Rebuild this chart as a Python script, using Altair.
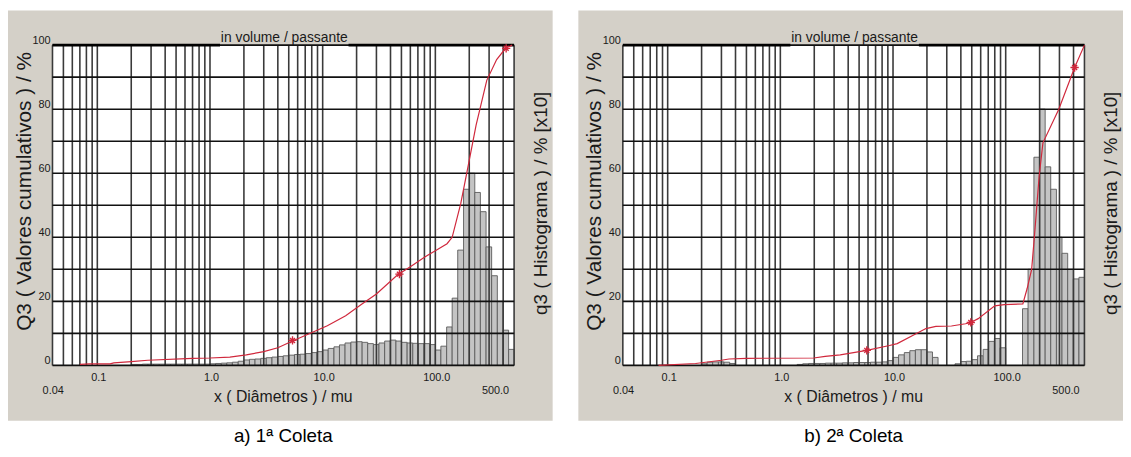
import altair as alt
import pandas as pd

# ---------------- data ----------------
# histogram bin edges (µm), log-spaced
EDGES = [0.200, 0.224, 0.251, 0.282, 0.316, 0.355, 0.398, 0.447, 0.501, 0.562, 0.631, 0.708, 0.794, 0.891,
         1.00, 1.12, 1.26, 1.41, 1.58, 1.78, 2.00, 2.24, 2.51, 2.82, 3.16, 3.55, 3.98, 4.47, 5.01, 5.62, 6.31, 7.08, 7.94, 8.91,
         10.0, 11.2, 12.6, 14.1, 15.8, 17.8, 20.0, 22.4, 25.1, 28.2, 31.6, 35.5, 39.8, 44.7, 50.1, 56.2, 63.1, 70.8, 79.4, 89.1,
         100, 112, 126, 141, 158, 178, 200, 224, 251, 282, 316, 355, 398, 447, 500]

# histogram heights (q3 x10, same axis as Q3)
HIST_A = [0.3, 0.3, 0.4, 0.4, 0.4, 0.4, 0.4, 0.4, 0.4, 0.4, 0.4, 0.4, 0.4, 0.4,
          0.5, 0.6, 0.7, 0.8, 1.0, 1.3, 1.7, 1.9, 2.0, 2.2, 2.4, 2.6, 2.8, 3.0, 3.2, 3.4, 3.5, 3.7, 4.0, 4.3,
          4.8, 5.3, 5.8, 6.4, 7.0, 7.3, 7.4, 7.2, 6.8, 6.5, 7.0, 7.6, 7.9, 7.6, 7.2, 7.0, 6.9, 6.8, 6.8, 6.5,
          4.8, 6.0, 12, 21, 36, 55, 60, 54, 48, 37, 28, 20, 11, 5]
HIST_B = [0.5, 1.0, 1.1, 1.1, 1.0, 0.6, 0, 0, 0, 0, 0, 0, 0, 0,
          0, 0, 0, 0.3, 0.5, 0.6, 0.6, 0.6, 0.7, 0.7, 0.7, 0.8, 0.8, 0.9, 0.9, 0.9, 1.0, 1.0, 1.1, 1.5,
          2.5, 3.3, 4.0, 4.6, 4.9, 4.9, 4.2, 2.5, 0, 0, 0, 0.5, 1.2, 1.3, 1.8, 3.0, 5.0, 7.5, 8.4, 5.5,
          0, 0, 0, 17.7, 30, 65, 80, 62, 55, 40, 35, 30, 27, 27.5]

# cumulative curves Q3 (%)
CUM_A_X = [0.07, 0.085, 0.13, 0.14, 0.2, 0.28, 0.7, 1.0, 1.5, 2.1, 3.0, 4.0, 5.4, 7.5, 11, 16, 22, 30, 46, 60,
           80, 100, 127, 141, 168, 190, 230, 286, 350, 420, 480]
CUM_A_Y = [0.3, 0.5, 0.5, 0.8, 1.2, 1.6, 2.2, 2.3, 2.6, 3.3, 4.3, 5.5, 7.6, 9.8, 12.4, 15.5, 19.0, 22.3, 28.2, 30.8,
           33.8, 35.8, 38.0, 40.0, 50.5, 60.0, 75.0, 89.0, 95.5, 99.0, 100.0]
CUM_B_X = [0.083, 0.177, 0.3, 0.35, 0.5, 1.98, 2.5, 3.4, 5.85, 9.3, 10.9, 16, 19.6, 24, 33, 44, 49, 57, 80, 97,
           142, 155, 170, 182, 198, 214, 296, 409, 500]
CUM_B_Y = [0.0, 0.6, 1.6, 2.0, 2.2, 2.3, 2.8, 3.3, 4.7, 6.2, 6.8, 9.9, 11.5, 12.2, 12.3, 13.0, 13.4, 14.6, 18.6, 19.0,
           19.2, 24.0, 30.0, 42.5, 59.0, 69.5, 80.0, 93.0, 100.0]

STAR_A_X = [5.4, 48, 425]
STAR_A_Y = [7.8, 28.5, 99.0]
STAR_B_X = [5.85, 49, 409]
STAR_B_Y = [4.7, 13.4, 93.0]

VGRID = [0.04, 0.05, 0.06, 0.07, 0.08, 0.09, 0.1, 0.2, 0.3, 0.4, 0.5, 0.6, 0.7, 0.8, 0.9,
         1, 2, 3, 4, 5, 6, 7, 8, 9, 10, 20, 30, 40, 50, 60, 70, 80, 90, 100, 200, 300, 400, 500]
HGRID = [0, 10, 20, 30, 40, 50, 60, 70, 80, 90, 100]
Y_TICKS = [0, 20, 40, 60, 80, 100]
Y_TICK_LABELS = ["0", "20", "40", "60", "80", "100"]
X_TICKS = [0.1, 1, 10, 100]
X_TICK_LABELS = ["0.1", "1.0", "10.0", "100.0"]
X_END_VALUES = [0.04, 500]
X_END_LABELS = ["0.04", "500.0"]

TOP_TITLE = "in volume / passante"
Y_TITLE = "Q3 ( Valores cumulativos ) / %"
Y2_TITLE = "q3 ( Histograma ) / % [x10]"
X_TITLE = "x ( Diâmetros ) / mu"
CAPTIONS = ["a) 1ª Coleta", "b) 2ª Coleta"]

# ---------------- style ----------------
W, H = 467, 324
GRAY = "#d4d0c8"
RED = "#d0283c"
INK = "#1a1a1a"
FONT = "Liberation Sans, Arial, sans-serif"
STAR = "M-1,0L1,0M0,-1L0,1M-0.6,-0.6L0.6,0.6M-0.6,0.6L0.6,-0.6"

XS = alt.Scale(type="log", domain=[0.04, 500], nice=False)
YS = alt.Scale(domain=[0, 100], nice=False, zero=False)


def panel(hist, cx, cy, sx, sy, caption):
    one = pd.DataFrame({"k": [0]})
    bars_df = pd.DataFrame({"lo": EDGES[:-1], "hi": EDGES[1:], "h": hist})
    bars_df = bars_df[bars_df["h"] > 0]
    cum_df = pd.DataFrame({"x": cx, "y": cy, "i": list(range(len(cx)))})
    star_df = pd.DataFrame({"x": sx, "y": sy})

    gray = alt.Chart(one).mark_rect(color=GRAY).encode(
        x=alt.value(-45), x2=alt.value(W + 39), y=alt.value(-35), y2=alt.value(380))
    white = alt.Chart(one).mark_rect(color="white").encode(
        x=alt.value(0), x2=alt.value(W), y=alt.value(0), y2=alt.value(H))

    bars = alt.Chart(bars_df).mark_rect(fill="#c4c4c4", stroke="#5a5a5a", strokeWidth=0.9).encode(
        x=alt.X("lo:Q", scale=XS, axis=None),
        x2="hi:Q",
        y=alt.Y("h:Q", scale=YS, axis=None),
        y2=alt.datum(0),
    )
    vgrid = alt.Chart(pd.DataFrame({"g": VGRID})).mark_rule(color="#3a3a3a", strokeWidth=1.6).encode(
        x=alt.X("g:Q", scale=XS, axis=None))
    hgrid = alt.Chart(pd.DataFrame({"g": HGRID})).mark_rule(color="#111111", strokeWidth=1.6).encode(
        y=alt.Y("g:Q", scale=YS, axis=None))
    thick1 = alt.Chart(one).mark_rule(color="#000000", strokeWidth=3).encode(
        x=alt.value(0), x2=alt.value(W / 2 - 64), y=alt.value(0))
    thick2 = alt.Chart(one).mark_rule(color="#000000", strokeWidth=3).encode(
        x=alt.value(W / 2 + 66), x2=alt.value(W), y=alt.value(0))

    line = alt.Chart(cum_df).mark_line(color=RED, strokeWidth=1.2).encode(
        x=alt.X("x:Q", scale=XS, axis=None),
        y=alt.Y("y:Q", scale=YS, axis=None),
        order="i:Q",
    )
    stars = alt.Chart(star_df).mark_point(shape=STAR, filled=False, stroke=RED, strokeWidth=1.4,
                                          size=70, opacity=1).encode(
        x=alt.X("x:Q", scale=XS, axis=None),
        y=alt.Y("y:Q", scale=YS, axis=None),
    )

    # tick labels (positioned through the scales)
    xlab = alt.Chart(pd.DataFrame({"v": X_TICKS, "t": X_TICK_LABELS})).mark_text(
        font=FONT, fontSize=11, color=INK, align="center", baseline="middle", dx=1.5).encode(
        x=alt.X("v:Q", scale=XS, axis=None), y=alt.value(337), text="t:N")
    ylab = alt.Chart(pd.DataFrame({"v": Y_TICKS, "t": Y_TICK_LABELS})).mark_text(
        font=FONT, fontSize=11, color=INK, align="right", baseline="alphabetic", dx=-2, dy=-1).encode(
        y=alt.Y("v:Q", scale=YS, axis=None), x=alt.value(0), text="t:N")
    lab_l = alt.Chart(pd.DataFrame({"v": X_END_VALUES[:1], "t": X_END_LABELS[:1]})).mark_text(
        font=FONT, fontSize=11, color=INK, align="left", baseline="middle", dx=-10).encode(
        x=alt.X("v:Q", scale=XS, axis=None), y=alt.value(350), text="t:N")
    lab_r = alt.Chart(pd.DataFrame({"v": X_END_VALUES[1:], "t": X_END_LABELS[1:]})).mark_text(
        font=FONT, fontSize=11, color=INK, align="right", baseline="middle", dx=-5).encode(
        x=alt.X("v:Q", scale=XS, axis=None), y=alt.value(350), text="t:N")

    top_title = alt.Chart(one).mark_text(text=TOP_TITLE, font=FONT, fontSize=14, color=INK,
                                         align="center", baseline="alphabetic").encode(
        x=alt.value(W / 2 + 1), y=alt.value(-3))
    ytitle = alt.Chart(one).mark_text(text=Y_TITLE, font=FONT, fontSize=21, color=INK, angle=270,
                                      align="center", baseline="middle").encode(
        x=alt.value(-28), y=alt.value(148))
    y2title = alt.Chart(one).mark_text(text=Y2_TITLE, font=FONT, fontSize=19, color=INK, angle=270,
                                       align="center", baseline="middle").encode(
        x=alt.value(W + 27), y=alt.value(160))
    xtitle = alt.Chart(one).mark_text(text=X_TITLE, font=FONT, fontSize=16, color=INK,
                                      align="center", baseline="alphabetic").encode(
        x=alt.value(W / 2), y=alt.value(361))
    cap = alt.Chart(one).mark_text(text=caption, font=FONT, fontSize=19, color="#000000",
                                   align="center", baseline="alphabetic").encode(
        x=alt.value(W / 2), y=alt.value(401))

    return alt.layer(gray, white, bars, vgrid, hgrid, thick1, thick2, line, stars,
                     xlab, ylab, lab_l, lab_r, top_title, ytitle, y2title, xtitle, cap
                     ).properties(width=W, height=H)


pa = panel(HIST_A, CUM_A_X, CUM_A_Y, STAR_A_X, STAR_A_Y, CAPTIONS[0])
pb = panel(HIST_B, CUM_B_X, CUM_B_Y, STAR_B_X, STAR_B_Y, CAPTIONS[1])

chart = alt.hconcat(pa, pb, spacing=26).properties(
    padding=0, background="white"
).configure_view(strokeWidth=0, stroke="transparent")

chart.save("out.html", embed_options={"renderer": "svg", "actions": False})
